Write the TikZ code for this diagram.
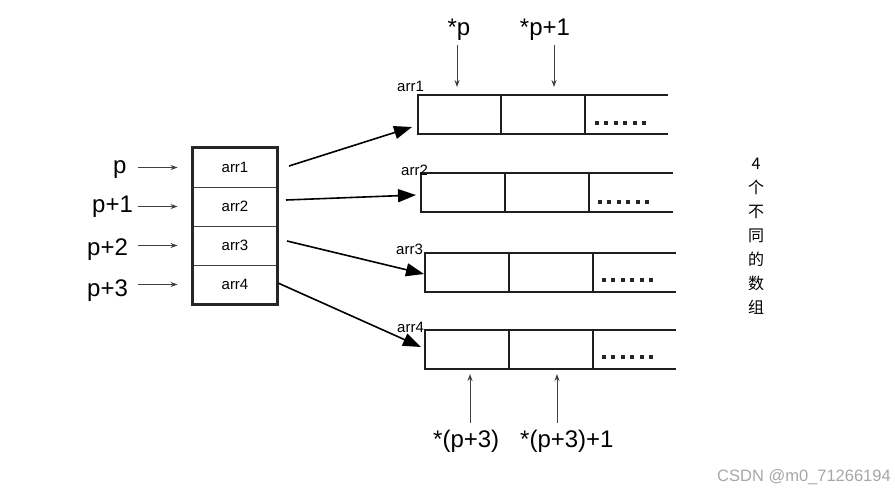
\documentclass[tikz,border=0pt]{standalone}
\usepackage{fontspec}
\setmainfont{Liberation Sans}
\newfontfamily\cjk{Noto Sans CJK SC}
\usetikzlibrary{arrows.meta,calc}
\begin{document}
\begin{tikzpicture}[x=1pt,y=-1pt,
  ptr/.style={draw=black!75, line width=0.9pt, -{Stealth[length=7pt,width=5pt]}},
  link/.style={draw=black, line width=1.6pt, -{Triangle[length=18pt,width=13pt]}},
  big/.style={font=\fontsize{24}{26}\selectfont, inner sep=0pt},
  small/.style={font=\fontsize{15}{17}\selectfont, inner sep=0pt},
  cell/.style={draw=black!75, line width=0.9pt, minimum width=84pt, minimum height=39pt,
               inner sep=0pt, font=\fontsize{15}{17}\selectfont},
  arrline/.style={draw=black!88, line width=1.8pt},
  dotmark/.style={fill=black!85}
]
\useasboundingbox (0,0) rectangle (895,490);

% pointer table
\node[cell] (c1) at (235,167.5) {arr1};
\node[cell] (c2) at (235,206.5) {arr2};
\node[cell] (c3) at (235,245.5) {arr3};
\node[cell] (c4) at (235,284.5) {arr4};
\draw[line width=2.3pt, draw=black!85] (c1.north west) rectangle (c4.south east);

% pointer names
\node[big, anchor=base west] (lp0) at (113,173) {p};
\node[big, anchor=base west] (lp1) at (92,212) {p+1};
\node[big, anchor=base west] (lp2) at (87,255) {p+2};
\node[big, anchor=base west] (lp3) at (87,296) {p+3};
\coordinate (sx) at (138,0);
\foreach \i in {1,...,4}
  \draw[ptr] (sx |- c\i.west) -- ([xshift=-15pt]c\i.west);

% the four arrays: left edge, top, bottom, two dividers, open right end
\foreach \n/\L/\T/\B/\Da/\Db/\R/\dx/\dy in
  {1/418/95/134/501/585/668/597/123,
   2/421/173/212/505/589/673/600/202,
   3/425/253/292/509/593/676/604/280,
   4/425/330/369/509/593/676/604/357}{
  \draw[arrline] (\R,\T) -- (\L,\T) -- (\L,\B) -- (\R,\B);
  \draw[arrline] (\Da,\T) -- (\Da,\B);
  \draw[arrline] (\Db,\T) -- (\Db,\B);
  \foreach \k in {0,...,5}
    \fill[dotmark] (\dx+9.4*\k-2,\dy-2) rectangle ++(4,4);
}

% array names
\node[small, anchor=base west] (n1) at (397,91) {arr1};
\node[small, anchor=base west] (n2) at (401,175) {arr2};
\node[small, anchor=base west] (n3) at (396,254) {arr3};
\node[small, anchor=base west] (n4) at (397,332) {arr4};

% links from table rows to arrays
\coordinate (o1) at (289,166);
\coordinate (o2) at (286,200);
\coordinate (o3) at (287,241);
\coordinate (o4) at (278,283);
\coordinate (t1) at (412,127);
\coordinate (t2) at (416,195);
\coordinate (t3) at (424,274);
\coordinate (t4) at (421,347);
\foreach \i in {1,...,4}
  \draw[link] (o\i) -- (t\i);

% element pointers above the first array
\node[big, anchor=base] (sp) at (459,35) {*p};
\node[big, anchor=base] (sp1) at (545,35) {*p+1};
\coordinate (ua) at (457,45);
\coordinate (ub) at (554,45);
\draw[ptr] (ua) -- ++(0,42);
\draw[ptr] (ub) -- ++(0,42);

% element pointers below the last array
\node[big, anchor=base west] (bp) at (433,447) {*(p+3)};
\node[big, anchor=base west] (bp1) at (520,447) {*(p+3)+1};
\coordinate (da) at (470,423);
\coordinate (db) at (557,423);
\draw[ptr] (da) -- (470,374);
\draw[ptr] (db) -- (557,374);

% side note
\node[align=center, inner sep=0pt, font=\cjk\fontsize{16}{24}\selectfont] (note) at (756,236)
  {4\\个\\不\\同\\的\\数\\组};

% watermark
\node[anchor=base west, inner sep=0pt, text=black!35, font=\fontsize{16.5}{18}\selectfont] (wm)
  at (717,481) {CSDN @m0\_71266194};
\end{tikzpicture}
\end{document}
